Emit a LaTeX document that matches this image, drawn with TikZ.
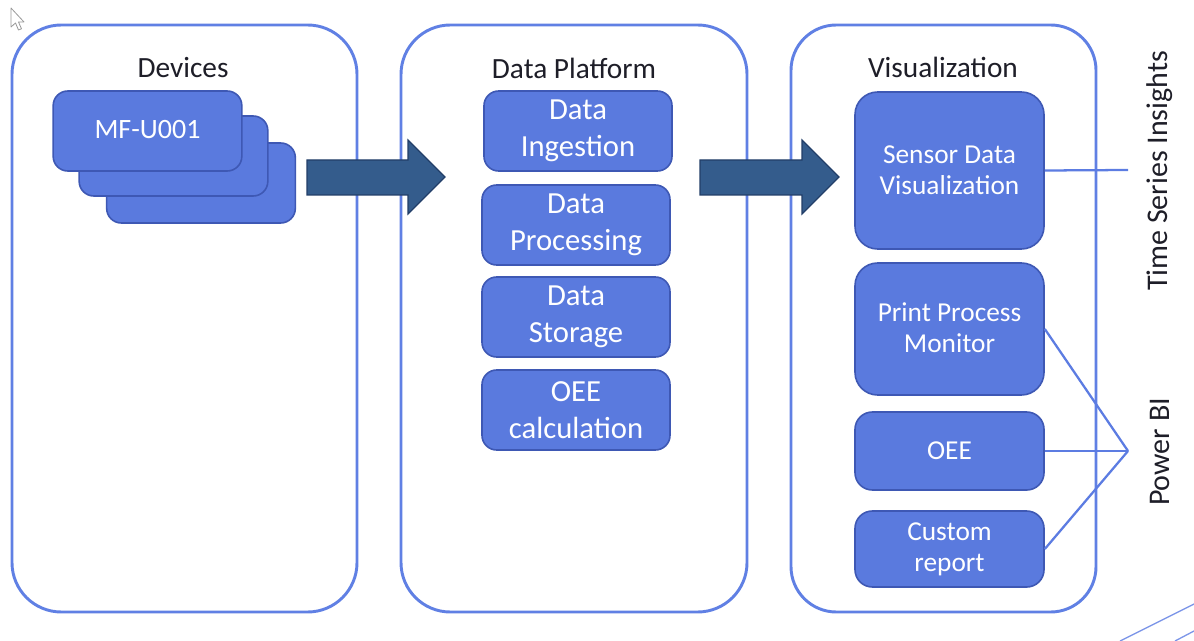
\documentclass[tikz,border=0pt]{standalone}
\usepackage{fontspec}
\setmainfont{Carlito}
\usetikzlibrary{positioning}
\definecolor{panelc}{RGB}{96,128,228}
\definecolor{boxfill}{RGB}{90,122,222}
\definecolor{boxdraw}{RGB}{62,88,180}
\definecolor{arrfill}{RGB}{52,92,140}
\definecolor{arrdraw}{RGB}{34,62,104}
\definecolor{linec}{RGB}{92,124,226}
\definecolor{txt}{RGB}{30,30,40}
\tikzset{
  panel/.style={draw=panelc, line width=2.2pt, rounded corners=37pt, fill=white, inner sep=0pt},
  ptitle/.style={text=txt, font=\fontsize{22}{26}\selectfont, inner sep=0pt},
  dbox/.style={draw=boxdraw, line width=1.2pt, fill=boxfill, rounded corners=11pt, text=white,
     inner sep=0pt, align=center, minimum width=141pt, minimum height=60pt},
  dptext/.style={font=\fontsize{23}{27.5}\selectfont},
  vtext/.style={font=\fontsize{20.5}{23.5}\selectfont},
  bigarrow/.style={draw=arrdraw, line width=0.9pt, fill=arrfill, line join=miter},
  conn/.style={draw=linec, line width=1.7pt},
  side/.style={rotate=90, text=txt, font=\fontsize{22.5}{26}\selectfont, inner sep=0pt},
}
\begin{document}
\begin{tikzpicture}[x=0.75pt,y=-0.75pt]
\useasboundingbox (0,0) rectangle (1194,641);
% cursor
\draw[gray!80, fill=white, line width=0.6pt, line join=round]
  (11,8) -- (11,27) -- (15.5,23) -- (18.5,30) -- (21.5,28.8) -- (18.5,22) -- (24,22) -- cycle;
% panels
\node[panel, minimum width=258.75pt, minimum height=440.25pt] (devp) at (184.5,318.5) {};
\node[panel, minimum width=259.5pt, minimum height=440.25pt] (dpp) at (574,318.5) {};
\node[panel, minimum width=228.75pt, minimum height=440.25pt, rounded corners=34pt] (visp) at (943.5,318.5) {};
\node[ptitle] (devt) at (183,68) {Devices};
\node[ptitle] (dpt) at (574,68) {Data Platform};
\node[ptitle] (vist) at (943,67) {Visualization};
% devices
\node[dbox, minimum width=141.5pt] (dev3) at (201,183) {};
\node[dbox, minimum width=141.5pt] (dev2) at (173.5,156) {};
\node[dbox, minimum width=141.5pt] (dev1) at (147.5,131) {};
\node[text=white, font=\fontsize{21}{24}\selectfont, inner sep=0pt] (dev1t) at (147.5,130) {MF-U001};
% arrows
\draw[bigarrow] (307,160) -- (408,160) -- (408,140) -- (445,177) -- (408,214) -- (408,195) -- (307,195) -- cycle;
\draw[bigarrow] (700,160) -- (802,160) -- (802,140) -- (839,177) -- (802,214) -- (802,195) -- (700,195) -- cycle;
% data platform
\node[dbox, dptext] (ing) at (578,131) {Data\\Ingestion};
\node[dbox, dptext] (proc) at (576,225) {Data\\Processing};
\node[dbox, dptext] (stor) at (576,317) {Data\\Storage};
\node[dbox, dptext] (oeec) at (576,410) {OEE\\calculation};
% visualization
\node[dbox, vtext, rounded corners=17pt, minimum height=117.75pt, minimum width=141.75pt] (sens) at (949.5,170.5) {};
\node[vtext, text=white, align=center, inner sep=0pt] (senst) at (949.5,170.5) {Sensor Data\\Visualization};
\node[dbox, vtext, rounded corners=17pt, minimum height=99pt, minimum width=141.75pt] (prnt) at (949.5,329) {};
\node[vtext, text=white, align=center, inner sep=0pt] (prntt) at (949.5,328) {Print Process\\Monitor};
\node[dbox, vtext, rounded corners=13pt, minimum height=58.5pt, minimum width=141.75pt] (oee) at (949.5,451) {OEE};
\node[dbox, vtext, rounded corners=13pt, minimum height=57pt, minimum width=141.75pt] (cust) at (949.5,549) {Custom\\report};
% side labels
\coordinate (tsi) at (1128,170);
\coordinate (pbi) at (1128,451);
\node[side] (tsil) at (1160,171) {Time Series Insights};
\node[side] (pbil) at (1160,452) {Power BI};
\draw[conn] (sens.east) -- (tsi);
\draw[conn] (prnt.east) -- (pbi);
\draw[conn] (oee.east) -- (pbi);
\draw[conn] (cust.east) -- (pbi);
% decorative lines bottom right
\draw[linec!80, line width=1pt] (1120,641) -- (1194,604);
\draw[linec!80, line width=1pt] (1175,641) -- (1194,631);
\end{tikzpicture}
\end{document}
